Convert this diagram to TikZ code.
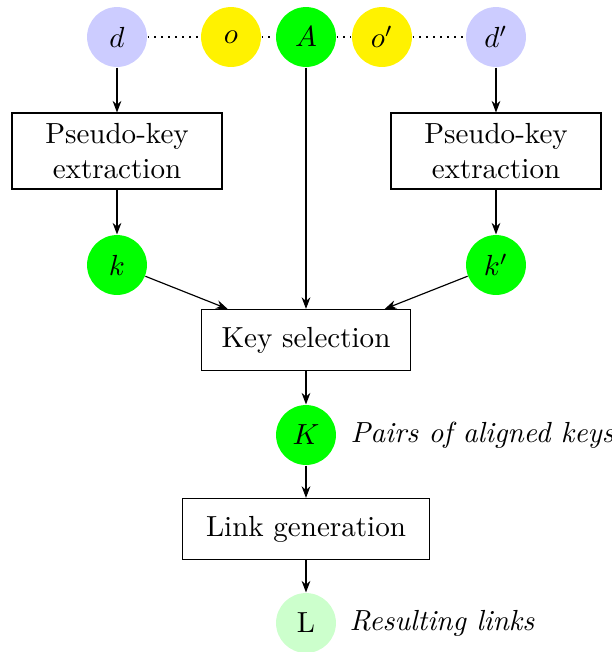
\documentclass[tikz,border=0pt]{standalone}
\usetikzlibrary{arrows.meta}
\begin{document}
\begin{tikzpicture}[x=0.344pt,y=-0.344pt,
  circ/.style={circle,minimum size=20.6pt,inner sep=0pt},
  procbox/.style={draw,align=center,inner sep=0pt,minimum height=21pt},
  arr/.style={-{Stealth[length=4pt,width=3pt]}},
  lab/.style={anchor=west,inner sep=0pt,font=\itshape}]
\useasboundingbox (0,0) rectangle (612,652);
\node[circ,fill=blue!20] (d) at (117,37) {$d$};
\node[circ,fill=yellow] (o) at (231,37) {$o$};
\node[circ,fill=green] (A) at (306,37) {$A$};
\node[circ,fill=yellow] (o2) at (382,37) {$o'$};
\node[circ,fill=blue!20] (d2) at (496,37) {$d'$};
\node[procbox,minimum width=72.2pt,minimum height=26.1pt] (p1) at (117,151) {Pseudo-key\\extraction};
\node[procbox,minimum width=72.2pt,minimum height=26.1pt] (p2) at (496,151) {Pseudo-key\\extraction};
\node[circ,fill=green] (k) at (117,265) {$k$};
\node[circ,fill=green] (k2) at (496,265) {$k'$};
\node[procbox,minimum width=71.9pt] (ks) at (306,340) {Key selection};
\node[circ,fill=green] (K) at (306,435) {$K$};
\node[procbox,minimum width=85pt] (lg) at (306,529) {Link generation};
\node[circ,fill=green!20] (L) at (306,623) {L};
\node[lab] (Klab) at (350,435) {Pairs of aligned keys};
\node[lab] (Llab) at (349,623) {Resulting links};
\draw[dotted] (d) -- (o) -- (A) -- (o2) -- (d2);
\draw[arr] (d) -- (p1);
\draw[arr] (d2) -- (p2);
\draw[arr] (p1) -- (k);
\draw[arr] (p2) -- (k2);
\draw[arr] (A) -- (ks);
\draw[arr] (k) -- (ks);
\draw[arr] (k2) -- (ks);
\draw[arr] (ks) -- (K);
\draw[arr] (K) -- (lg);
\draw[arr] (lg) -- (L);
\end{tikzpicture}
\end{document}
